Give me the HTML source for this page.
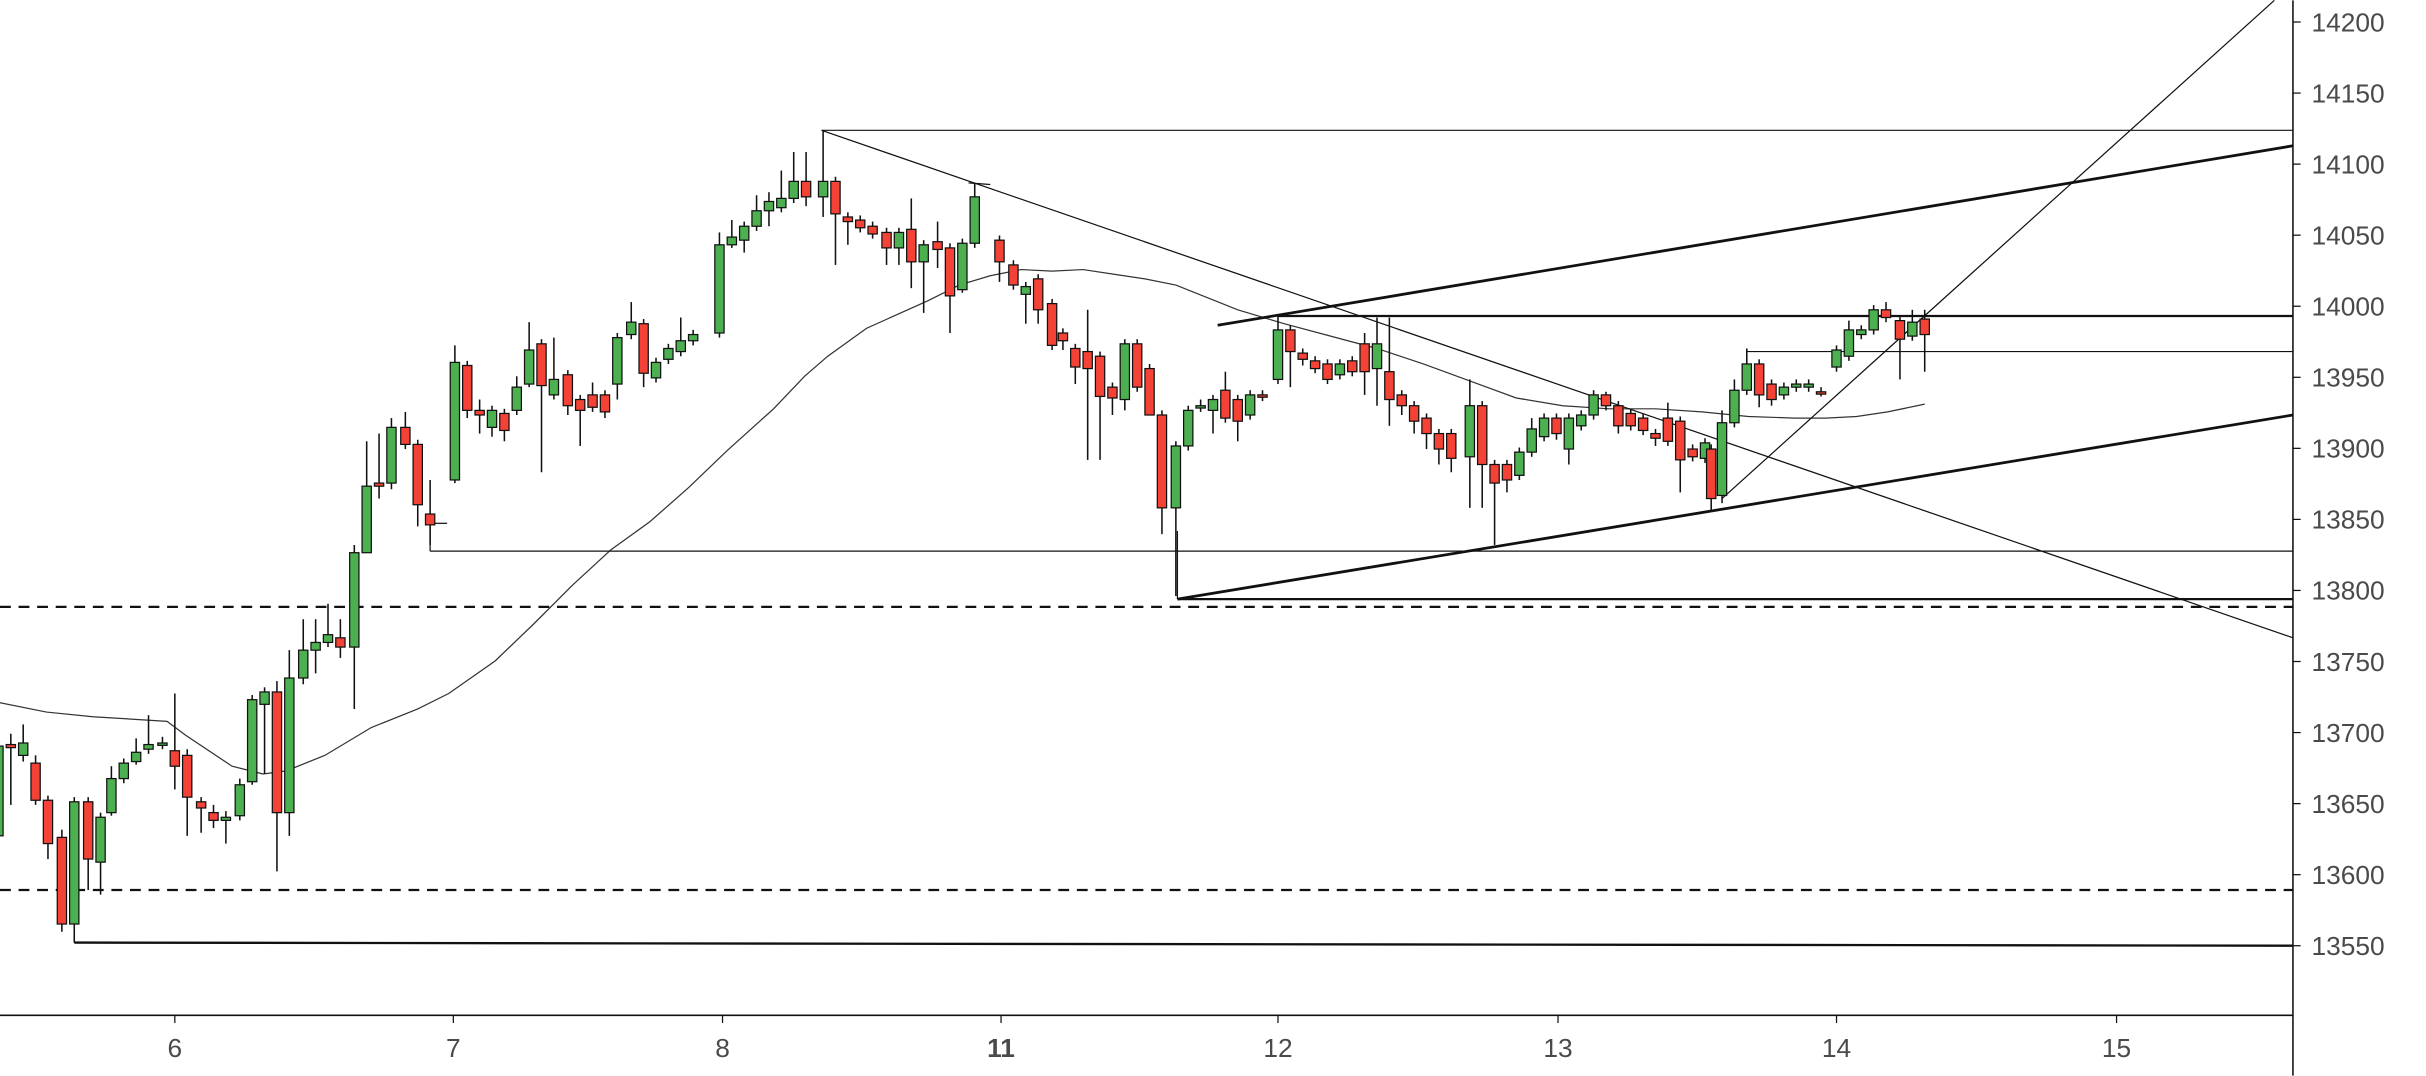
<!DOCTYPE html>
<html><head><meta charset="utf-8"><style>
html,body{margin:0;padding:0;background:#fff;}
svg{display:block;}
text{font-family:"Liberation Sans",sans-serif;fill:#4a4a4a;}
</style></head><body>
<svg id="s" width="2426" height="1076" viewBox="0 0 1568 695" xmlns="http://www.w3.org/2000/svg">
<rect width="1568" height="695" fill="#fff"/>
<g id="g"></g>
</svg>
<script>
var NS="http://www.w3.org/2000/svg",g=document.getElementById('g');
function el(t,a){var e=document.createElementNS(NS,t);for(var k in a)e.setAttribute(k,a[k]);g.appendChild(e);return e;}
function ln(x1,y1,x2,y2,w,d){var a={x1:x1,y1:y1,x2:x2,y2:y2,stroke:'#111','stroke-width':w||0.8};if(d)a['stroke-dasharray']=d;el('line',a);}
// MA
var ma=[[0,454],[30,460],[60,463],[108,466],[120,475],[150,495],[170,500],[185,498],[210,488],[240,470],[270,458],[290,448],[320,427],[345,403],[370,378],[395,355],[420,337],[445,315],[470,291],[500,264],[520,243],[535,230],[560,212],[580,203],[600,194],[620,184],[640,178],[660,174],[680,175],[700,174],[720,177],[740,180],[760,184],[780,192],[800,200],[830,209],[860,217],[890,225],[920,235],[950,246],[980,257],[1010,262],[1040,264],[1070,264],[1100,266],[1130,269],[1160,270],[1180,270],[1200,269],[1220,266],[1244,261]];
el('polyline',{points:ma.map(function(p){return p.join(',')}).join(' '),fill:'none',stroke:'#333','stroke-width':0.8});
// lines
ln(531,84,1482,84,0.8);
ln(826,204,1482,204,1.5);
ln(1129,227,1482,227,0.8);ln(1129,227,1129,237,0.8);
ln(278,356,1482,356,0.8);ln(278,338,278,356,0.8);
ln(761,387,1482,387,1.5);ln(761,343,761,387,0.8);
ln(0,392,1482,392,1.5,'7,5');
ln(0,575,1482,575,1.5,'7,5');
ln(48,609,1482,611,1.5);ln(48,600,48,609,0.8);
ln(531,84,1482,412,0.8);
ln(787,210,1482,94,1.8);
ln(761,387,1482,268,1.8);
ln(1113,322,1470,0,0.8);
ln(626,118,640,119,0.8);
ln(280,338,289,338,0.8);
// candles [x, open, close, high, low]
var C=[[-1,540,482,475,545],[7,481,483,474,520],[15,488,480,468,492],[23,493,517,488,520],[31,517,545,514,555],[40,541,597,536,602],[48,597,518,515,609],[57,518,555,515,575],[65,557,528,525,578],[72,525,503,495,527],[80,503,493,490,506],[88,492,486,477,494],[96,484,481,462,487],[105,481,480,476,484],[113,485,495,448,510],[121,488,515,484,540],[130,518,522,515,538],[138,525,530,520,535],[146,530,528,524,545],[155,527,507,503,530],[163,505,452,449,507],[171,455,447,444,500],[179,447,525,440,563],[187,525,438,420,540],[196,438,420,400,442],[204,420,415,400,435],[212,415,410,390,418],[220,412,418,400,425],[229,418,357,352,458],[237,357,314,285,357],[245,312,314,280,322],[253,312,276,270,316],[262,276,287,266,290],[270,287,326,284,340],[278,332,339,310,352],[294,310,234,223,312],[302,236,265,233,270],[310,265,268,258,280],[318,276,265,262,282],[326,267,278,264,285],[334,265,250,243,268],[342,248,226,208,250],[350,222,249,219,305],[358,255,245,218,258],[367,242,262,239,268],[375,258,265,255,288],[383,255,263,247,266],[391,255,266,252,270],[399,248,218,215,258],[408,216,208,195,219],[416,209,241,206,250],[424,244,234,231,247],[432,232,225,222,235],[440,227,220,205,230],[448,220,216,213,223],[465,215,158,150,218],[473,158,153,142,160],[481,155,146,143,163],[489,146,136,126,149],[497,136,130,124,146],[505,134,128,110,137],[513,128,117,98,131],[521,117,127,98,133],[532,127,117,84,140],[540,117,138,114,171],[548,140,143,137,158],[556,142,147,139,150],[564,146,151,143,154],[573,150,160,147,171],[581,160,150,147,171],[589,148,169,128,186],[597,169,158,155,202],[606,156,161,143,173],[614,160,191,157,215],[622,187,157,154,189],[630,157,127,118,160],[646,155,169,152,182],[655,171,184,168,187],[663,190,185,182,209],[671,180,200,177,209],[680,196,223,193,226],[687,215,220,212,226],[695,225,237,222,248],[703,227,238,200,297],[711,230,256,227,297],[719,250,257,247,268],[727,258,222,219,265],[735,222,250,219,253],[743,238,268,235,268],[751,268,328,265,345],[760,328,288,285,385],[768,288,265,262,291],[776,263,262,258,266],[784,265,258,255,280],[792,252,270,240,273],[800,258,272,255,285],[808,268,255,252,271],[816,255,256,252,259],[826,245,213,203,248],[834,213,227,210,250],[842,228,232,225,236],[850,233,238,230,241],[858,235,245,232,248],[866,242,235,232,245],[874,233,240,230,243],[882,222,240,215,255],[890,238,222,205,262],[898,240,258,205,275],[906,255,262,252,268],[914,262,272,259,280],[922,270,280,267,290],[930,280,290,277,300],[938,280,296,277,305],[950,295,262,245,328],[958,262,300,259,328],[966,300,312,297,352],[974,300,310,297,318],[982,307,292,289,310],[990,292,277,270,295],[998,282,270,267,285],[1006,270,280,267,284],[1014,290,270,267,300],[1022,275,268,265,278],[1030,268,255,252,271],[1038,255,262,253,265],[1046,262,275,259,280],[1054,267,275,264,278],[1062,270,278,267,281],[1070,280,283,277,288],[1078,270,285,260,288],[1086,272,297,269,318],[1094,290,295,287,298],[1102,296,286,283,299],[1106,290,322,287,330],[1113,320,273,265,325],[1121,273,252,245,276],[1129,252,235,225,255],[1137,235,255,232,263],[1145,248,258,245,262],[1153,255,250,247,258],[1161,250,248,245,253],[1169,250,248,245,253],[1177,253,254,250,256],[1187,237,226,223,240],[1195,230,213,207,233],[1203,216,213,210,219],[1211,213,200,197,216],[1219,200,205,195,208],[1228,207,219,204,245],[1236,217,208,200,220],[1244,206,216,200,240]];
C.forEach(function(c){var x=c[0],o=c[1],cl=c[2],h=c[3],l=c[4];
 el('line',{x1:x,y1:h,x2:x,y2:l,stroke:'#111','stroke-width':1});
 var top=Math.min(o,cl),bh=Math.max(Math.abs(o-cl),1.5);
 el('rect',{x:x-3,y:top,width:6,height:bh,fill:cl<o?'#4caf50':'#f44336',stroke:'#111','stroke-width':0.8});
});
// axes
ln(1482,0,1482,695,1);
ln(0,656,1482,656,1);
for(var p=13550;p<=14200;p+=50){var y=14+(14200-p)*0.9185;ln(1482,y,1487,y,0.8);
 var t=el('text',{x:1494,y:y+6,'font-size':17});t.textContent=p;}
[[113,'6'],[293,'7'],[467,'8'],[647,'11'],[826,'12'],[1007,'13'],[1187,'14'],[1368,'15']].forEach(function(d){
 ln(d[0],656,d[0],661,0.8);
 var t=el('text',{x:d[0],y:683,'font-size':17,'text-anchor':'middle'});if(d[1]=='11')t.setAttribute('font-weight','bold');t.textContent=d[1];});
</script>
</body></html>
